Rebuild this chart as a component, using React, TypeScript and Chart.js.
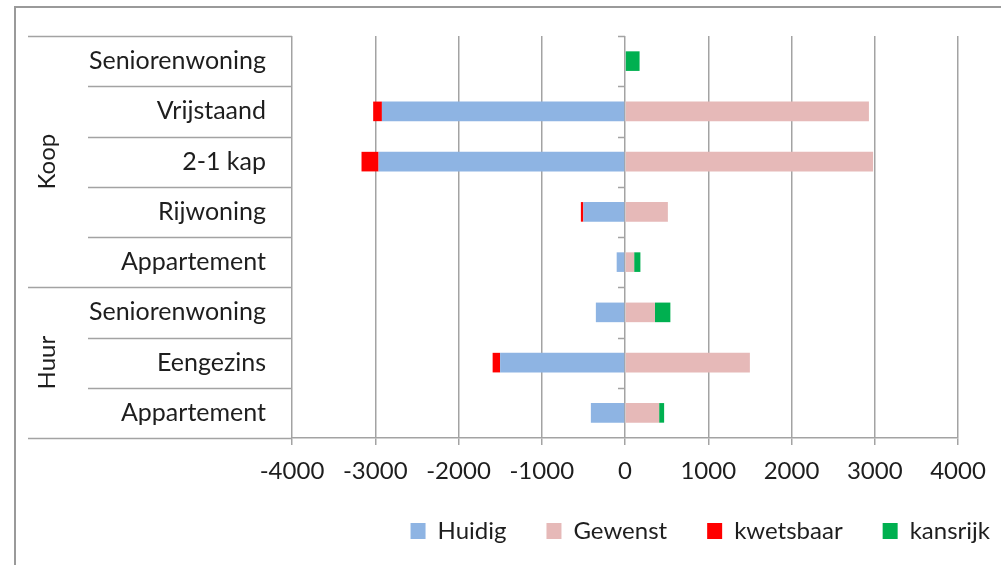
import React, { useEffect, useRef } from 'react';
import { Chart, registerables } from 'chart.js';

Chart.register(...registerables);

// ---- data ----
const categories = [
  'Seniorenwoning',
  'Vrijstaand',
  '2-1 kap',
  'Rijwoning',
  'Appartement',
  'Seniorenwoning',
  'Eengezins',
  'Appartement',
];
const groupLabels = ['Koop', 'Huur'];
const groupSizes = [5, 3];

const huidig = [0, -2920, -2960, -500, -100, -350, -1500, -410];
const gewenst = [0, 2930, 2980, 515, 110, 360, 1500, 410];
const kwetsbaar = [0, -105, -205, -30, 0, 0, -90, 0];
const kansrijk = [175, 0, 0, 0, 75, 185, 0, 60];

const seriesNames = ['Huidig', 'Gewenst', 'kwetsbaar', 'kansrijk'];
const xTickLabels = ['-4000', '-3000', '-2000', '-1000', '0', '1000', '2000', '3000', '4000'];
const xMin = -4000;
const xMax = 4000;
const xStep = 1000;

// ---- styles ----
const FONT = 'Lato';
const TEXT = '#1e1e1e';
const GRID = '#a3a3a3';
const COLORS = ['#8eb4e3', '#e6b9b8', '#ff0000', '#00b050'];

const decor = {
  id: 'decor',
  beforeDraw(chart: any) {
    const { ctx } = chart;
    ctx.save();
    ctx.strokeStyle = '#9a9a9a';
    ctx.lineWidth = 2;
    ctx.beginPath();
    ctx.moveTo(15, chart.height);
    ctx.lineTo(15, 7);
    ctx.lineTo(chart.width, 7);
    ctx.stroke();
    ctx.restore();
  },
  afterDraw(chart: any) {
    const { ctx, chartArea } = chart;
    const ys = chart.scales.y;
    const xs = chart.scales.x;
    const n = categories.length;
    const left = chartArea.left;
    const edges = new Set<number>([0]);
    let acc = 0;
    groupSizes.forEach((s) => {
      acc += s;
      edges.add(acc);
    });
    ctx.save();
    ctx.strokeStyle = GRID;
    ctx.lineWidth = 1.5;
    const z = xs.getPixelForValue(0);
    for (let k = 0; k <= n; k++) {
      const py = Math.round(ys.getPixelForValue(k - 0.5)) + 0.5;
      const x0 = edges.has(k) ? left - 264 : left - 204;
      ctx.beginPath();
      ctx.moveTo(x0, py);
      ctx.lineTo(left, py);
      ctx.stroke();
      if (k < n) {
        ctx.beginPath();
        ctx.moveTo(z - 7, py);
        ctx.lineTo(z, py);
        ctx.stroke();
      }
    }
    ctx.fillStyle = TEXT;
    ctx.font = `24px ${FONT}`;
    ctx.textAlign = 'center';
    ctx.textBaseline = 'middle';
    let start = 0;
    groupLabels.forEach((g, i) => {
      const yc = ys.getPixelForValue(start + groupSizes[i] / 2 - 0.5);
      ctx.save();
      ctx.translate(47, yc);
      ctx.rotate(-Math.PI / 2);
      ctx.fillText(g, 0, 0);
      ctx.restore();
      start += groupSizes[i];
    });
    ctx.restore();
  },
};

export default function App() {
  const ref = useRef<HTMLCanvasElement | null>(null);

  useEffect(() => {
    if (!ref.current) return;
    const values = [huidig, gewenst, kwetsbaar, kansrijk];
    const chart = new Chart(ref.current, {
      type: 'bar',
      data: {
        labels: categories,
        datasets: seriesNames.map((name, i) => ({
          label: name,
          data: values[i],
          backgroundColor: COLORS[i],
          borderWidth: 0,
          barPercentage: 0.39,
          categoryPercentage: 1,
        })),
      },
      options: {
        indexAxis: 'y',
        responsive: false,
        animation: false,
        devicePixelRatio: 1,
        layout: { padding: { left: 0, right: -29, top: 36, bottom: 12 } },
        plugins: {
          tooltip: { enabled: false },
          legend: {
            position: 'bottom',
            align: 'end',
            labels: {
              font: { family: FONT, size: 24 },
              color: TEXT,
              boxWidth: 15,
              boxHeight: 16,
              padding: 40,
            },
          },
        },
        scales: {
          x: {
            stacked: true,
            min: xMin,
            max: xMax,
            ticks: {
              stepSize: xStep,
              color: TEXT,
              font: { family: FONT, size: 24 },
              padding: 12,
              callback: (_v: any, i: number) => xTickLabels[i],
            },
            grid: { color: GRID, lineWidth: 1.5, tickLength: 7, drawTicks: true },
            border: { color: GRID, width: 1.5 },
            afterFit: (s: any) => {
              s.height = 41;
            },
          },
          y: {
            stacked: true,
            ticks: {
              color: TEXT,
              font: { family: FONT, size: 25 },
              padding: 18,
              autoSkip: false,
            },
            grid: { display: false, tickLength: 8 },
            border: { display: false },
            afterFit: (s: any) => {
              s.width = 292;
            },
          },
          yRight: {
            type: 'linear',
            position: 'right',
            display: true,
            ticks: { display: false },
            grid: { display: false },
            border: { display: false },
            afterFit: (s: any) => {
              s.width = 72;
            },
          },
        },
      },
      plugins: [decor],
    } as any);
    return () => chart.destroy();
  }, []);

  return (
    <div style={{ position: 'fixed', left: 0, top: 0, width: 1001, height: 565, background: '#fff' }}>
      <canvas ref={ref} width={1001} height={565} />
    </div>
  );
}
